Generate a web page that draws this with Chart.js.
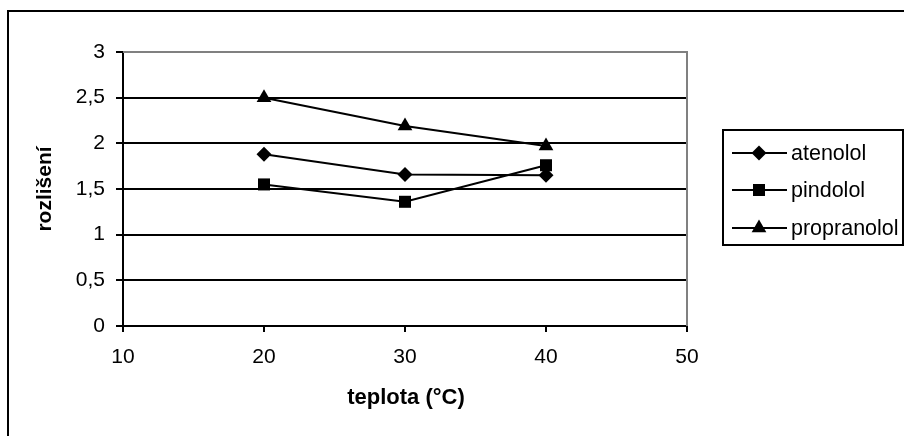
<!DOCTYPE html>
<html>
<head>
<meta charset="utf-8">
<script src="https://cdn.jsdelivr.net/npm/chart.js@4/dist/chart.umd.min.js"></script>
<style>
  html, body { margin: 0; padding: 0; background: #fff; }
  canvas { display: block; }
</style>
</head>
<body>
<canvas id="chart" width="904" height="436"></canvas>
<script>
const temps = [20, 30, 40];
const atenolol = [1.88, 1.66, 1.65];
const pindolol = [1.55, 1.36, 1.76];
const propranolol = [2.5, 2.19, 1.97];
const seriesNames = ['atenolol', 'pindolol', 'propranolol'];
const xTicks = [10, 20, 30, 40, 50];
const yTicks = ['0', '0,5', '1', '1,5', '2', '2,5', '3'];

const FONT = '"Liberation Sans", Arial, sans-serif';
const styles = [
  { pointStyle: 'rectRot', radius: 7.5 },
  { pointStyle: 'rect', radius: 8.5 },
  { pointStyle: 'triangle', radius: 8.5 }
];

function makeSet(name, values, i) {
  return {
    label: name,
    data: values.map((v, k) => ({ x: temps[k], y: v })),
    borderColor: '#000',
    backgroundColor: '#000',
    borderWidth: 2,
    pointStyle: styles[i].pointStyle,
    pointRadius: styles[i].radius,
    pointHoverRadius: styles[i].radius,
    pointBorderWidth: 0,
    tension: 0
  };
}

// frame, axis titles and legend
const decor = {
  id: 'decor',
  beforeDraw(chart) {
    const c = chart.ctx;
    c.save();
    c.fillStyle = '#fff';
    c.fillRect(0, 0, chart.width, chart.height);
    c.restore();
  },
  afterDraw(chart) {
    const c = chart.ctx;
    const a = chart.chartArea;
    c.save();
    // outer chart border (only top/left visible)
    c.strokeStyle = '#000';
    c.lineWidth = 2;
    c.beginPath();
    c.moveTo(8, 436);
    c.lineTo(8, 11);
    c.lineTo(904, 11);
    c.stroke();
    // grey plot-area border top/right
    c.strokeStyle = '#808080';
    c.lineWidth = 2;
    c.beginPath();
    c.moveTo(a.left, a.top);
    c.lineTo(a.right, a.top);
    c.lineTo(a.right, a.bottom);
    c.stroke();

    // axis titles
    c.fillStyle = '#000';
    c.textAlign = 'center';
    c.textBaseline = 'middle';
    c.font = 'bold 22px ' + FONT;
    c.fillText('teplota (°C)', (a.left + a.right) / 2 + 1, 398);
    c.font = 'bold 21px ' + FONT;
    c.save();
    c.translate(45, (a.top + a.bottom) / 2);
    c.rotate(-Math.PI / 2);
    c.fillText('rozlišení', 0, 0);
    c.restore();

    // legend
    c.strokeStyle = '#000';
    c.lineWidth = 2;
    c.strokeRect(723, 130, 180, 115);
    c.font = '21.5px ' + FONT;
    c.textAlign = 'left';
    const rows = [153, 190, 228];
    chart.data.datasets.forEach((ds, i) => {
      const y = rows[i];
      c.lineWidth = 2;
      c.beginPath();
      c.moveTo(732, y);
      c.lineTo(787, y);
      c.stroke();
      c.fillStyle = '#000';
      Chart.helpers.drawPoint(c, {
        pointStyle: ds.pointStyle, radius: ds.pointRadius, borderWidth: 0, rotation: 0
      }, 759, y);
      c.fillStyle = '#000';
      c.fillText(ds.label, 791, y + 1);
    });
    c.restore();
  }
};

new Chart(document.getElementById('chart'), {
  type: 'line',
  data: {
    datasets: [
      makeSet(seriesNames[0], atenolol, 0),
      makeSet(seriesNames[1], pindolol, 1),
      makeSet(seriesNames[2], propranolol, 2)
    ]
  },
  options: {
    responsive: false,
    animation: false,
    events: [],
    layout: { padding: { left: 0, top: 52, right: 904 - 687, bottom: 0 } },
    plugins: { legend: { display: false }, tooltip: { enabled: false } },
    scales: {
      x: {
        type: 'linear',
        min: 10, max: 50,
        afterFit(s) { s.height = 110; },
        afterBuildTicks(s) { s.ticks = xTicks.map(v => ({ value: v })); },
        grid: { drawOnChartArea: false, color: '#000', tickLength: 6, lineWidth: 2 },
        border: { color: '#000', width: 2 },
        ticks: { color: '#000', font: { family: FONT, size: 21 }, padding: 13, maxRotation: 0 }
      },
      y: {
        min: 0, max: 3,
        afterFit(s) { s.width = 123; },
        afterBuildTicks(s) { s.ticks = yTicks.map((t, i) => ({ value: i * 0.5 })); },
        grid: { color: '#000', lineWidth: 2, tickLength: 7 },
        border: { color: '#000', width: 2 },
        ticks: {
          color: '#000',
          font: { family: FONT, size: 21 },
          padding: 11,
          callback: (v, i) => yTicks[i]
        }
      }
    }
  },
  plugins: [decor]
});
</script>
</body>
</html>
